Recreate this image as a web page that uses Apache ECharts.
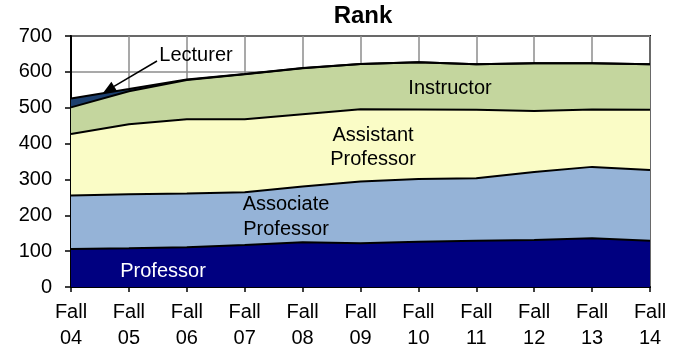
<!DOCTYPE html>
<html>
<head>
<meta charset="utf-8">
<script src="https://cdn.jsdelivr.net/npm/echarts@6/dist/echarts.min.js"></script>
<style>
  html, body { margin: 0; padding: 0; background: #fff; }
  #chart { width: 684px; height: 351px; }
</style>
</head>
<body>
<div id="chart"></div>
<script>
// data
var years = ['Fall 04', 'Fall 05', 'Fall 06', 'Fall 07', 'Fall 08', 'Fall 09', 'Fall 10', 'Fall 11', 'Fall 12', 'Fall 13', 'Fall 14'];
var professor  = [106, 108, 111, 117, 125, 122, 126, 129, 131, 136, 129];
var associate  = [149, 151, 150, 147, 155, 172, 175, 174, 190, 199, 197];
var assistant  = [172, 195, 207, 204, 202, 202, 194, 191, 170, 160, 168];
var instructor = [74, 92, 109, 125, 128, 126, 132, 127, 133, 129, 127];
var lecturer   = [25, 6, 2, 1, 1, 0, 0, 0, 0, 0, 0];
var yTicks = { min: 0, max: 700, step: 100 };

var layers = [
  { name: 'Professor', data: professor, color: '#000080' },
  { name: 'Associate Professor', data: associate, color: '#95B3D7' },
  { name: 'Assistant Professor', data: assistant, color: '#FAFCC6' },
  { name: 'Instructor', data: instructor, color: '#C4D69E' },
  { name: 'Lecturer', data: lecturer, color: '#1C3F6E' }
];

var font = 'Arial, "Liberation Sans", sans-serif';

var series = [];
// filled areas
layers.forEach(function (l) {
  series.push({
    name: l.name,
    type: 'line',
    stack: 'area',
    data: l.data,
    symbol: 'none',
    lineStyle: { width: 0 },
    areaStyle: { color: l.color, opacity: 1 },
    z: 2
  });
});
// black outlines on top so the next area does not cover them
layers.forEach(function (l) {
  series.push({
    name: l.name + ' edge',
    type: 'line',
    stack: 'edge',
    data: l.data,
    symbol: 'none',
    silent: true,
    lineStyle: { color: '#000', width: 2 },
    z: 3
  });
});

var chart = echarts.init(document.getElementById('chart'));
chart.setOption({
  animation: false,
  title: {
    text: 'Rank',
    left: 358,
    top: -1,
    textAlign: 'center',
    textStyle: { fontFamily: font, fontSize: 24, fontWeight: 'bold', color: '#000' }
  },
  grid: {
    left: 71, right: 34, top: 36, bottom: 64,
    show: true, borderColor: '#000', borderWidth: 2, backgroundColor: 'transparent'
  },
  xAxis: {
    type: 'category',
    data: years,
    boundaryGap: false,
    axisLine: { lineStyle: { color: '#000', width: 2 } },
    axisTick: { show: true, length: 5, lineStyle: { color: '#000', width: 1.5 } },
    splitLine: { show: true, lineStyle: { color: '#8c8c8c', width: 1.5 } },
    axisLabel: {
      interval: 0,
      margin: 12,
      fontFamily: font, fontSize: 20, lineHeight: 26, color: '#000',
      formatter: function (v) { return v.replace(' ', '\n'); }
    }
  },
  yAxis: {
    type: 'value',
    min: yTicks.min, max: yTicks.max, interval: yTicks.step,
    axisLine: { show: true, lineStyle: { color: '#000', width: 2 } },
    axisTick: { show: true, length: 6, lineStyle: { color: '#000', width: 1.5 } },
    splitLine: { show: true, lineStyle: { color: '#8c8c8c', width: 1.5 } },
    axisLabel: { margin: 19, fontFamily: font, fontSize: 20, color: '#000' }
  },
  series: series,
  graphic: [
    { type: 'text', x: 196, y: 55, z: 10,
      style: { text: 'Lecturer', fill: '#000', font: '20px ' + font, textAlign: 'center', textVerticalAlign: 'middle' } },
    { type: 'line', z: 10,
      shape: { x1: 157, y1: 61, x2: 114, y2: 86.4 },
      style: { stroke: '#000', lineWidth: 1.5 } },
    { type: 'polygon', z: 10,
      shape: { points: [[103, 93], [117, 91.1], [111.4, 81.7]] },
      style: { fill: '#000' } },
    { type: 'text', x: 450, y: 88, z: 10,
      style: { text: 'Instructor', fill: '#000', font: '20px ' + font, textAlign: 'center', textVerticalAlign: 'middle' } },
    { type: 'text', x: 373, y: 147, z: 10,
      style: { text: 'Assistant\nProfessor', fill: '#000', font: '20px ' + font, lineHeight: 24, textAlign: 'center', textVerticalAlign: 'middle' } },
    { type: 'text', x: 286, y: 217, z: 10,
      style: { text: 'Associate\nProfessor', fill: '#000', font: '20px ' + font, lineHeight: 25, textAlign: 'center', textVerticalAlign: 'middle' } },
    { type: 'text', x: 163, y: 271, z: 10,
      style: { text: 'Professor', fill: '#fff', font: '20px ' + font, textAlign: 'center', textVerticalAlign: 'middle' } }
  ]
});
</script>
</body>
</html>
